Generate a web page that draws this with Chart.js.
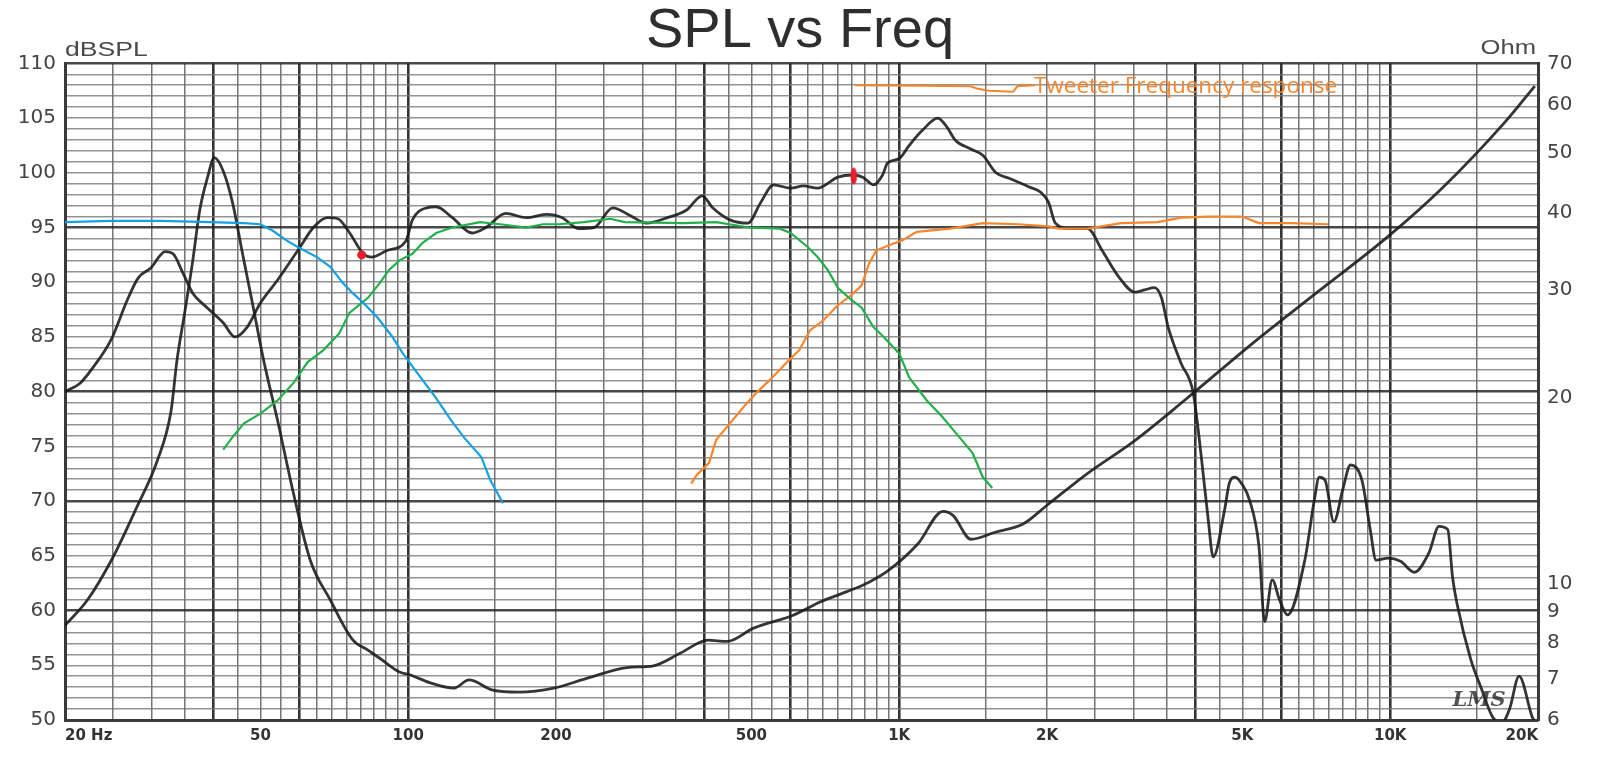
<!DOCTYPE html>
<html>
<head>
<meta charset="utf-8">
<title>SPL vs Freq</title>
<script src="https://cdn.jsdelivr.net/npm/chart.js@4.4.0/dist/chart.umd.min.js"></script>
<style>
  html, body { margin: 0; padding: 0; background: #fff; }
  #wrap { width: 1600px; height: 761px; }
</style>
</head>
<body>
<div id="wrap"><canvas id="spl" width="1600" height="761"></canvas></div>
<script>
// woofer SPL, left axis (dB)
const splFreq = [20, 21.5, 22.8, 24.8, 26.8, 28.2, 29.9, 32, 33.2, 34.8, 36.4, 38.9, 42, 44.4, 47, 50, 54.2, 60.2, 64.1, 68.5,
  71.9, 76, 81, 84.2, 90.6, 99, 102, 109, 114, 123, 135, 144, 158, 174, 191, 206, 222, 239, 261, 283,
  306, 337, 369, 397, 417, 452, 492, 521, 555, 601, 638, 682, 750, 804, 843, 887, 925, 947, 1000, 1048,
  1116, 1198, 1250, 1300, 1395, 1480, 1575, 1674, 1840, 1945, 2015, 2080, 2230, 2420, 2590, 2800, 3020, 3160, 3310, 3420,
  3530, 3750, 3970, 4120, 4260, 4360, 4600, 4700, 4830, 5000, 5170, 5400, 5550, 5750, 5950, 6180, 6700, 7000, 7170, 7370,
  7680, 8000, 8300, 8760, 9100, 9360, 9900, 10500, 11200, 12000, 12570, 13100, 13400, 13700, 14600, 15300, 16200, 16900, 17500, 18300,
  19500, 20000];
const splDb = [80.0, 80.8, 82.2, 84.7, 88.4, 90.4, 91.3, 92.8, 92.6, 90.8, 89.0, 87.7, 86.3, 85.0, 85.9, 88.1, 90.2, 93.2, 95.0, 95.9,
  95.8, 94.5, 92.6, 92.3, 92.9, 93.8, 95.7, 96.8, 96.9, 95.9, 94.5, 95.0, 96.3, 95.9, 96.2, 95.9, 94.9, 95.0, 96.8, 96.1,
  95.4, 95.9, 96.6, 97.9, 96.8, 95.7, 95.4, 97.2, 98.9, 98.6, 98.8, 98.6, 99.6, 99.8, 99.6, 98.9, 99.8, 100.9, 101.3, 102.5,
  103.9, 105.0, 104.2, 103.0, 102.2, 101.6, 100.0, 99.5, 98.7, 98.2, 97.3, 95.4, 94.9, 94.9, 92.9, 90.5, 89.1, 89.3, 89.5, 88.6,
  85.9, 82.6, 79.9, 74.2, 68.3, 64.9, 69.2, 71.6, 72.2, 71.5, 70.1, 66.0, 59.0, 62.8, 61.0, 59.6, 64.6, 70.0, 72.2, 71.9,
  68.1, 71.0, 73.3, 71.9, 67.5, 64.6, 64.8, 64.5, 63.5, 65.3, 67.7, 67.4, 63.0, 60.5, 55.5, 53.0, 50.2, 49.8, 51.0, 54.0,
  50.2, 49.5];

// impedance, right axis (Ohm)
const impFreq = [20, 22.2, 25, 28, 30.8, 32.9, 33.8, 35.1, 36.4, 37.6, 39, 40.3, 42, 43.9, 46, 48.1, 50.8, 54.2, 58.4, 63.2,
  69.4, 77.1, 82.8, 87.5, 96, 101, 110.6, 124, 133, 148.7, 168, 198, 231, 279, 316, 358, 408, 446, 505, 608,
  690, 780, 868, 951, 1092, 1228, 1287, 1400, 1563, 1791, 2000, 2420, 3000, 3830, 5260, 7170, 9850, 12800, 17200, 19700];
const impOhm = [8.55, 9.39, 11.0, 13.3, 15.8, 19.1, 23.0, 27.7, 33.4, 40.3, 45.6, 49.2, 46.8, 41.5, 34.3, 28.7, 23.0, 18.4, 14.0, 10.9,
  9.4, 8.1, 7.79, 7.56, 7.18, 7.1, 6.9, 6.76, 6.97, 6.71, 6.66, 6.76, 7.01, 7.30, 7.35, 7.70, 8.09, 8.05, 8.46, 8.88,
  9.33, 9.69, 10.05, 10.5, 11.6, 13.1, 12.9, 11.8, 12.1, 12.5, 13.4, 15.1, 17.0, 19.9, 24.6, 29.9, 36.5, 44.0, 56.4, 64.3];

// hand drawn filter curves (dB)
const lowFreq = [20, 24.8, 31.2, 39.5, 46.3, 50, 53, 56.6, 60.2, 65.2, 69.4, 73.7, 77.1, 81.1, 86.5, 92.9, 97.5, 104.4, 113.6, 122.2,
  130, 141, 147, 156];
const lowDb = [95.5, 95.6, 95.6, 95.5, 95.4, 95.3, 94.7, 93.8, 93.1, 92.3, 91.4, 89.9, 89.0, 88.1, 86.8, 85.0, 83.5, 81.7, 79.5, 77.4,
  75.8, 74.0, 71.9, 69.8];

const midFreq = [42, 43.8, 46.3, 50, 54.2, 58.4, 62.4, 67.2, 72.3, 75.9, 82.9, 87.4, 91.3, 96, 102, 107, 114, 123, 140, 154,
  174, 188, 203, 228, 258, 276, 363, 424, 495, 571, 601, 652, 682, 716, 750, 798, 838, 886, 930, 1000,
  1048, 1138, 1224, 1328, 1411, 1480, 1547];
const midDb = [74.7, 75.8, 77.1, 78.0, 79.2, 80.8, 82.7, 83.8, 85.3, 87.2, 88.6, 89.9, 91.1, 92.0, 92.6, 93.6, 94.5, 95.0, 95.5, 95.3,
  95.0, 95.3, 95.3, 95.5, 95.8, 95.5, 95.4, 95.5, 95.0, 94.9, 94.5, 93.2, 92.3, 91.1, 89.5, 88.4, 87.7, 85.9, 85.0, 83.5,
  81.3, 79.2, 77.7, 75.8, 74.4, 72.2, 71.2];

const tweetFreq = [377, 387, 410, 424, 452, 482, 512, 546, 582, 626, 658, 700, 750, 798, 838, 868, 898, 956, 1012, 1086,
  1270, 1480, 1744, 2015, 2110, 2420, 2830, 3360, 3750, 4260, 4990, 5400, 6300, 7470];
const tweetDb = [71.6, 72.4, 73.5, 75.6, 77.1, 78.6, 79.9, 81.1, 82.4, 83.8, 85.6, 86.5, 87.9, 88.8, 89.7, 91.7, 92.9, 93.4, 93.8, 94.6,
  94.9, 95.4, 95.3, 95.1, 94.9, 94.9, 95.4, 95.5, 95.9, 96.0, 96.0, 95.4, 95.4, 95.3];

// legend stroke next to the note
const keyFreq = [813, 1100, 1395, 1440, 1520, 1706, 1740, 1890];
const keyDb = [108.0, 107.95, 107.9, 107.7, 107.5, 107.4, 107.9, 108.0];
const keyText = "Tweeter Frequency response";

// red crossover marks
const markFreq = [80.4, 808];
const markDb = [92.5, 99.7];

// axes
const freqTicks = [20, 50, 100, 200, 500, 1000, 2000, 5000, 10000, 20000];
const freqTickText = ["20 Hz", "50", "100", "200", "500", "1K", "2K", "5K", "10K", "20K"];
const gridDecades = [20, 200, 2000];
const gridSteps = [1, 1.25, 1.5, 1.75, 2, 2.25, 2.5, 2.75, 3, 3.25, 3.5, 3.75, 4, 4.25, 4.5, 4.75, 5, 7.5];
const heavySteps = [2, 3, 5];
const dbHeavy = [60, 70, 80, 95, 110];
const ohmTicks = [6, 7, 8, 9, 10, 20, 30, 40, 50, 60, 70];

const gridFreqs = [];
const heavyFreqs = [];
gridDecades.forEach(d => {
  gridSteps.forEach(s => {
    gridFreqs.push(Math.round(d * s));
    if (heavySteps.includes(s)) heavyFreqs.push(Math.round(d * s));
  });
});
gridFreqs.push(20000);

const pts = (xs, ys) => xs.map((x, i) => ({ x: x, y: ys[i] }));

const BLUE = "#13a0e4", GREEN = "#22b04b", ORANGE = "#f7852c", RED = "#e51f2b", INK = "rgba(25,25,25,0.88)";

// tall red blob for the second mark
const blob = document.createElement("canvas");
blob.width = 8; blob.height = 18;
(function () {
  const b = blob.getContext("2d");
  b.fillStyle = RED;
  b.beginPath();
  b.ellipse(4, 9, 3.2, 8.5, 0, 0, Math.PI * 2);
  b.fill();
})();

Chart.defaults.font.family = "'DejaVu Sans', 'Liberation Sans', sans-serif";
Chart.defaults.color = "#3a3a3a";

// draws wide text like the scanned sheet
function wideText(ctx, str, x, y, sx, align) {
  ctx.save();
  const w = ctx.measureText(str).width * sx;
  const left = align === "right" ? x - w : x;
  ctx.translate(left, y);
  ctx.scale(sx, 1);
  ctx.textAlign = "left";
  ctx.fillText(str, 0, 0);
  ctx.restore();
}

const notes = {
  id: "notes",
  afterDraw(chart) {
    const { ctx, chartArea } = chart;
    const x = chart.scales.x, y = chart.scales.y;
    ctx.save();
    ctx.fillStyle = "#4a4a4a";
    ctx.font = "20px 'Liberation Sans', Arial";
    ctx.textBaseline = "middle";
    wideText(ctx, "dBSPL", chartArea.left, 50, 1.33, "left");
    wideText(ctx, "Ohm", chartArea.right - 2, 48, 1.28, "right");

    // note at the end of the legend stroke
    let size = 22;
    ctx.font = size + "px 'Open Sans', 'Noto Sans', sans-serif";
    const w = ctx.measureText(keyText).width;
    size = size * 303 / w;
    ctx.font = size.toFixed(1) + "px 'Open Sans', 'Noto Sans', sans-serif";
    ctx.fillStyle = ORANGE;
    ctx.textAlign = "left";
    ctx.textBaseline = "alphabetic";
    const kx = x.getPixelForValue(keyFreq[keyFreq.length - 1]);
    const ky = y.getPixelForValue(keyDb[keyDb.length - 1]);
    ctx.fillText(keyText, kx - 1, ky + 8);

    // maker logo, bottom right
    ctx.fillStyle = "rgba(40,40,40,0.8)";
    ctx.font = "italic bold 21px 'DejaVu Serif', serif";
    ctx.fillText("LMS", x.getPixelForValue(13400), y.getPixelForValue(51.3));
    ctx.restore();
  }
};

new Chart(document.getElementById("spl"), {
  type: "line",
  data: {
    datasets: [
      {
        label: "marks", data: pts(markFreq, markDb), showLine: false,
        pointStyle: ["circle", blob], pointRadius: 4.5,
        pointBackgroundColor: RED, pointBorderWidth: 0, yAxisID: "y"
      },
      { label: "key", data: pts(keyFreq, keyDb), borderColor: ORANGE, borderWidth: 2, pointRadius: 0, yAxisID: "y" },
      { label: "low pass", data: pts(lowFreq, lowDb), borderColor: BLUE, borderWidth: 2.2, pointRadius: 0, yAxisID: "y" },
      { label: "band pass", data: pts(midFreq, midDb), borderColor: GREEN, borderWidth: 2.2, pointRadius: 0, yAxisID: "y" },
      { label: "Tweeter", data: pts(tweetFreq, tweetDb), borderColor: ORANGE, borderWidth: 2.2, pointRadius: 0, yAxisID: "y" },
      {
        label: "SPL", data: pts(splFreq, splDb), borderColor: INK, borderWidth: 2.8, pointRadius: 0,
        cubicInterpolationMode: "monotone", yAxisID: "y"
      },
      {
        label: "Impedance", data: pts(impFreq, impOhm), borderColor: INK, borderWidth: 2.8, pointRadius: 0,
        cubicInterpolationMode: "monotone", yAxisID: "y2"
      }
    ]
  },
  options: {
    responsive: false,
    animation: false,
    devicePixelRatio: 1,
    events: [],
    layout: { padding: 0 },
    plugins: {
      legend: { display: false },
      tooltip: { enabled: false },
      title: {
        display: true,
        text: "SPL vs Freq",
        color: "#2e2e2e",
        font: { family: "'Liberation Sans', Arial, sans-serif", size: 56, weight: "normal", lineHeight: 1.06 },
        padding: { top: 2, bottom: 2 }
      }
    },
    scales: {
      x: {
        type: "logarithmic",
        min: 20,
        max: 20000,
        afterBuildTicks: s => { s.ticks = gridFreqs.map(v => ({ value: v })); },
        afterFit: s => { s.height = 41; },
        ticks: {
          autoSkip: false,
          maxRotation: 0,
          align: "inner",
          padding: 7,
          color: "#333",
          font: { size: 15, weight: "bold" },
          callback: v => {
            const i = freqTicks.indexOf(Math.round(v));
            return i < 0 ? "" : freqTickText[i];
          }
        },
        grid: {
          drawTicks: false,
          color: c => heavyFreqs.includes(Math.round(c.tick.value)) ? "rgba(30,30,30,0.9)" : "rgba(70,70,70,0.75)",
          lineWidth: c => heavyFreqs.includes(Math.round(c.tick.value)) ? 2.6 : 1.5
        },
        border: { color: "#3a3a3a", width: 3 }
      },
      y: {
        type: "linear",
        position: "left",
        min: 50,
        max: 110,
        afterFit: s => { s.width = 65; },
        ticks: {
          stepSize: 1,
          autoSkip: false,
          padding: 9,
          color: "#444",
          font: { size: 20 },
          callback: v => (v % 5 === 0 ? v : "")
        },
        grid: {
          drawTicks: false,
          color: c => dbHeavy.includes(c.tick.value) ? "rgba(40,40,40,0.85)" : "rgba(120,120,120,0.8)",
          lineWidth: c => dbHeavy.includes(c.tick.value) ? 2.6 : 1.5
        },
        border: { color: "#3a3a3a", width: 3 }
      },
      y2: {
        type: "logarithmic",
        position: "right",
        min: 6,
        max: 70,
        afterBuildTicks: s => { s.ticks = ohmTicks.map(v => ({ value: v })); },
        afterFit: s => { s.width = 62; },
        ticks: {
          autoSkip: false,
          padding: 9,
          color: "#444",
          font: { size: 20 },
          callback: v => String(v)
        },
        grid: { display: false, drawTicks: false },
        border: { color: "#3a3a3a", width: 3 }
      }
    }
  },
  plugins: [notes]
});
</script>
</body>
</html>
